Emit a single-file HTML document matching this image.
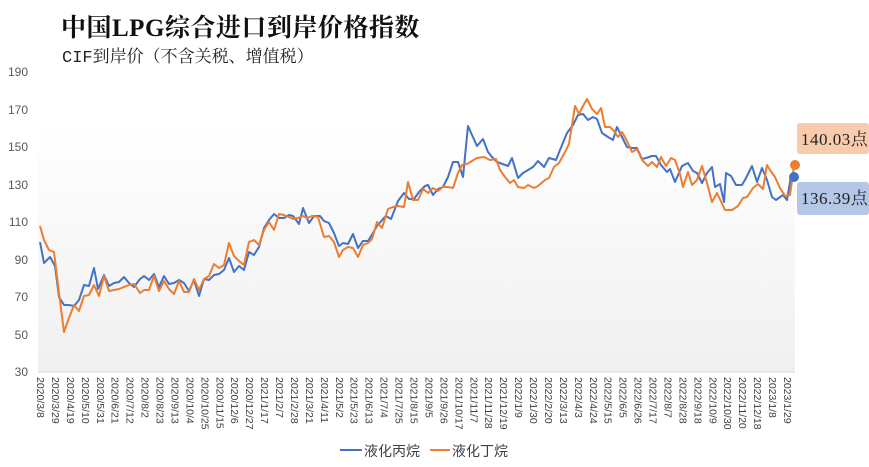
<!DOCTYPE html>
<html><head><meta charset="utf-8"><style>
body{margin:0;width:869px;height:467px;background:#fff;overflow:hidden;position:relative;font-family:"Liberation Sans","Noto Sans CJK SC",sans-serif}
.t{position:absolute;left:61px;top:8px;font:bold 25px "Liberation Serif","Noto Serif CJK SC",serif;color:#111;white-space:nowrap;letter-spacing:0.5px}
.s{position:absolute;left:62px;top:42px;font:17px "Liberation Mono","Noto Serif CJK SC",serif;color:#222;white-space:nowrap}
</style></head><body>
<div class="t">中国LPG综合进口到岸价格指数</div>
<div class="s">CIF到岸价（不含关税、增值税）</div>
<svg width="869" height="467" style="position:absolute;left:0;top:0">
<defs><linearGradient id="g" x1="0" y1="0" x2="0" y2="1"><stop offset="0" stop-color="#fff"/><stop offset="1" stop-color="#f0f0f0"/></linearGradient></defs>
<rect x="38" y="120" width="757" height="252" fill="url(#g)"/>
<line x1="38" y1="372" x2="795" y2="372" stroke="#d9d9d9"/>
<g font-size="12" fill="#595959" text-anchor="end" font-family="Liberation Sans,sans-serif">
<text x="28" y="76">190</text><text x="28" y="114">170</text><text x="28" y="151">150</text><text x="28" y="189">130</text><text x="28" y="226">110</text><text x="28" y="264">90</text><text x="28" y="301">70</text><text x="28" y="339">50</text><text x="28" y="376">30</text>
</g>
<g id="lab" font-size="10.5" fill="#404040" font-family="Liberation Sans,sans-serif"></g>
<polyline fill="none" stroke="#4472C4" stroke-width="2" stroke-linejoin="round" points="40,242 44,263 50,257 55,266 59,297 64,305 69,305 74,306 79,300 84,285 89,286 94,268 98,289 104,275 109,286 114,283 119,282 124,277 129,283 134,287 140,279 144,276 149,280 154,274 159,287 164,276 169,284 174,283 179,280 184,283 189,291 194,280 199,296 204,279 209,280 214,275 219,274 224,270 229,258 234,272 239,266 244,270 249,252 254,255 259,247 264,228 269,220 274,214 279,218 284,218 289,215 293,216 299,224 303,208 309,223 314,216 320,216 324,221 329,223 334,233 339,246 343,243 348,244 353,234 358,248 363,241 368,241 373,233 377,226 383,219 386,216 391,219 398,201 404,193 409,199 414,199 419,192 425,186 428,185 433,195 438,189 443,187 448,177 453,162 458,162 463,177 468,126 472,135 477,146 483,139 488,152 492,157 497,162 508,166 512,158 518,178 523,173 533,167 538,161 544,167 549,158 556,160 560,150 567,133 573,125 578,115 583,114 588,120 593,117 597,119 602,133 608,137 613,140 617,127 622,137 627,147 632,148 637,148 642,159 646,158 652,156 656,156 661,165 667,172 670,169 675,182 682,166 688,163 693,171 697,173 702,183 707,173 712,167 715,187 720,184 724,202 726,173 731,176 736,185 742,185 746,178 752,166 757,182 762,168 767,180 772,197 776,200 783,195 787,200 791,176 794,173"/>
<polyline fill="none" stroke="#ED7D31" stroke-width="2" stroke-linejoin="round" points="40,226 44,240 49,250 54,252 59,293 64,332 69,318 74,305 79,311 84,296 89,295 94,285 99,296 104,276 109,291 114,290 119,289 124,287 129,285 134,284 140,293 144,290 149,290 154,276 159,291 164,281 169,289 174,294 179,281 184,292 189,292 194,279 199,290 204,279 209,276 214,264 219,268 224,265 229,243 234,256 239,261 244,265 249,242 254,240 259,245 264,230 269,222 274,230 279,214 284,215 289,217 293,219 298,218 303,216 307,218 312,216 318,217 324,237 329,236 334,242 339,257 343,250 348,247 353,248 358,257 363,245 368,243 372,239 377,222 382,228 388,209 393,207 398,206 404,207 408,182 413,200 418,200 423,189 428,193 433,188 438,191 443,187 448,187 453,188 458,173 462,165 467,164 472,161 477,158 484,157 490,160 496,159 500,170 505,177 510,183 514,180 518,187 524,188 528,185 534,188 538,186 545,180 549,178 554,167 559,163 565,152 569,144 575,106 579,114 583,106 587,99 592,109 597,114 601,108 605,127 610,127 614,131 618,137 622,132 627,141 632,152 637,149 642,160 648,166 652,162 657,167 661,157 666,166 671,158 675,160 680,174 683,187 688,172 692,185 697,180 702,166 707,183 712,202 717,193 725,210 732,210 738,206 743,198 747,197 753,188 758,184 763,189 767,165 770,170 775,177 780,188 785,196 790,195 794,166"/>
<circle cx="795" cy="165" r="5" fill="#ED7D31"/>
<circle cx="794" cy="177" r="5" fill="#4472C4"/>
<rect x="797" y="123" width="72" height="31" rx="3" fill="#F8CBAD"/>
<text x="801" y="145" font-size="17" fill="#222" letter-spacing="0.5" font-family="Liberation Serif,Noto Serif CJK SC,serif">140.03点</text>
<rect x="797" y="182" width="72" height="33" rx="3" fill="#B4C7E7"/>
<text x="801" y="204" font-size="17" fill="#222" letter-spacing="0.5" font-family="Liberation Serif,Noto Serif CJK SC,serif">136.39点</text>
<line x1="340" y1="450" x2="362" y2="450" stroke="#4472C4" stroke-width="2"/>
<text x="364" y="456" font-size="14" fill="#404040">液化丙烷</text>
<line x1="430" y1="450" x2="450" y2="450" stroke="#ED7D31" stroke-width="2"/>
<text x="452" y="456" font-size="14" fill="#404040">液化丁烷</text>
</svg>
<script>
var L="2020/3/8 2020/3/29 2020/4/19 2020/5/10 2020/5/31 2020/6/21 2020/7/12 2020/8/2 2020/8/23 2020/9/13 2020/10/4 2020/10/25 2020/11/15 2020/12/6 2020/12/27 2021/1/17 2021/2/7 2021/2/28 2021/3/21 2021/4/11 2021/5/2 2021/5/23 2021/6/13 2021/7/4 2021/7/25 2021/8/15 2021/9/5 2021/9/26 2021/10/17 2021/11/7 2021/11/28 2021/12/19 2022/1/9 2022/1/30 2022/2/20 2022/3/13 2022/4/3 2022/4/24 2022/5/15 2022/6/5 2022/6/26 2022/7/17 2022/8/7 2022/8/28 2022/9/18 2022/10/9 2022/10/30 2022/11/20 2022/12/18 2023/1/8 2023/1/29".split(" ");
var g=document.getElementById("lab"),s="";
for(var i=0;i<L.length;i++){var x=37+i*14.94;s+='<text transform="translate('+x+',377) rotate(90)">'+L[i]+'</text>';}
g.innerHTML=s;
</script>
</body></html>
